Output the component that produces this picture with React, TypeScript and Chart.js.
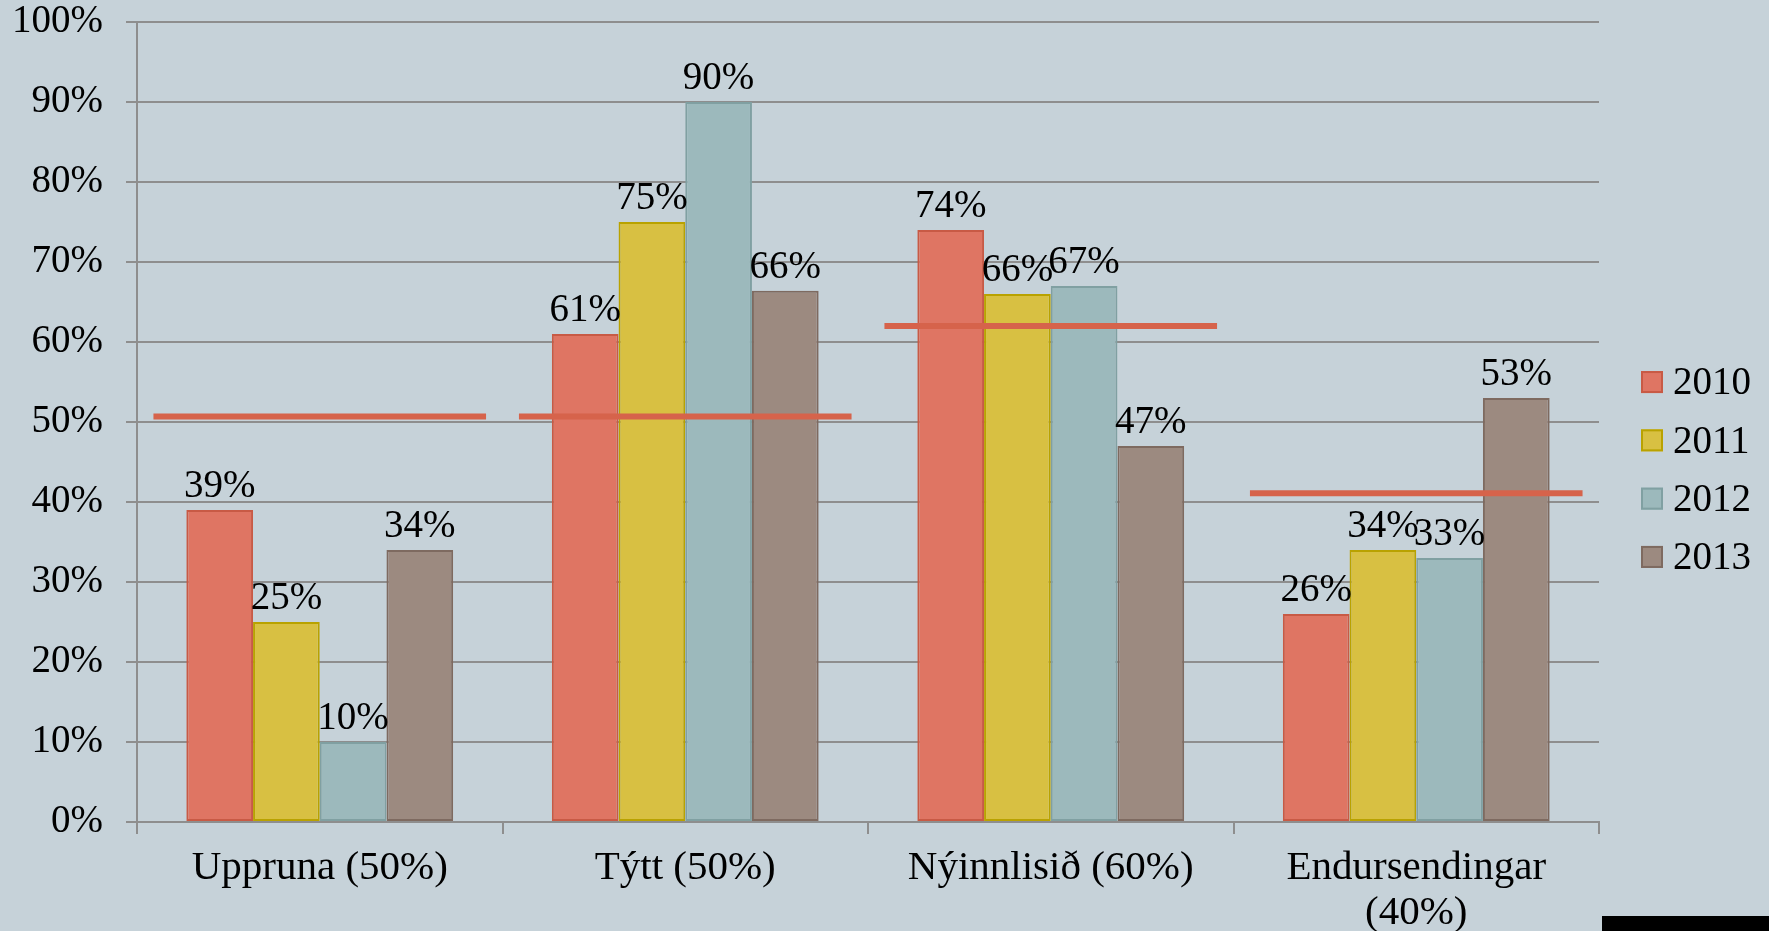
import React, { useEffect, useRef } from "react";
import { Chart, registerables } from "chart.js";

Chart.register(...registerables);

const categories: (string | string[])[] = [
  "Uppruna (50%)",
  "Týtt (50%)",
  "Nýinnlisið (60%)",
  ["Endursendingar", "(40%)"],
];
const seriesNames = ["2010", "2011", "2012", "2013"];
const values2010 = [39, 61, 74, 26];
const values2011 = [25, 75, 66, 34];
const values2012 = [10, 90, 67, 33];
const values2013 = [34, 66.4, 47, 53];
const targetValues = [50.7, 50.7, 62, 41.1];
const yTicks = [0, 10, 20, 30, 40, 50, 60, 70, 80, 90, 100];

const fills = ["#DF7563", "#D8C042", "#9CB9BC", "#9C8A80"];
const borders = ["#C85A45", "#B9A200", "#80A0A2", "#7E6A60"];
const FONT = "'Liberation Serif', 'DejaVu Serif', serif";
const FS = 39;
const FS_X = 41;
const GRID = "#8E8E8E";

const targetPlugin = {
  id: "targetLines",
  afterDatasetsDraw(chart: any) {
    const { ctx, scales } = chart;
    const x = scales.x;
    const y = scales.y;
    const catW = x.width / categories.length;
    ctx.save();
    ctx.strokeStyle = "#D6634B";
    ctx.lineWidth = 6;
    targetValues.forEach((v, i) => {
      const cx = x.getPixelForValue(i);
      const py = y.getPixelForValue(v);
      ctx.beginPath();
      ctx.moveTo(cx - catW * 0.455, py);
      ctx.lineTo(cx + catW * 0.455, py);
      ctx.stroke();
    });
    ctx.restore();
  },
};

const labelPlugin = {
  id: "barLabels",
  afterDatasetsDraw(chart: any) {
    const { ctx } = chart;
    ctx.save();
    ctx.font = `${FS}px ${FONT}`;
    ctx.fillStyle = "#000";
    ctx.textAlign = "center";
    ctx.textBaseline = "alphabetic";
    chart.data.datasets.forEach((ds: any, di: number) => {
      const meta = chart.getDatasetMeta(di);
      meta.data.forEach((bar: any, i: number) => {
        const v = ds.data[i];
        ctx.fillText(`${Math.round(v)}%`, bar.x, bar.y - 13);
      });
    });
    ctx.restore();
  },
};

const legendPlugin = {
  id: "sideLegend",
  afterDraw(chart: any) {
    const { ctx, chartArea, height } = chart;
    const x0 = chartArea.right + 42;
    const cy = height / 2 + 4;
    const step = 58.3;
    const n = chart.data.datasets.length;
    ctx.save();
    ctx.font = `${FS}px ${FONT}`;
    ctx.textAlign = "left";
    ctx.textBaseline = "middle";
    chart.data.datasets.forEach((ds: any, i: number) => {
      const yc = cy + (i - (n - 1) / 2) * step;
      ctx.fillStyle = ds.backgroundColor;
      ctx.fillRect(x0, yc - 11, 22, 22);
      ctx.strokeStyle = ds.borderColor;
      ctx.lineWidth = 2;
      ctx.strokeRect(x0 + 1, yc - 10, 20, 20);
      ctx.fillStyle = "#000";
      ctx.fillText(ds.label, x0 + 32, yc + 2);
    });
    ctx.restore();
  },
};

export default function App() {
  const canvasRef = useRef<HTMLCanvasElement | null>(null);

  useEffect(() => {
    document.body.style.margin = "0";
    document.body.style.overflow = "hidden";
    const canvas = canvasRef.current;
    if (!canvas) return;
    const seriesValues = [values2010, values2011, values2012, values2013];
    const chart = new Chart(canvas, {
      type: "bar",
      data: {
        labels: categories,
        datasets: seriesNames.map((name, i) => ({
          label: name,
          data: seriesValues[i],
          backgroundColor: fills[i],
          borderColor: borders[i],
          borderWidth: 2,
          borderSkipped: false,
          categoryPercentage: 0.73,
          barPercentage: 1.0,
        })),
      },
      options: {
        animation: false,
        responsive: true,
        maintainAspectRatio: false,
        layout: { padding: { top: 22, right: 170, bottom: 0, left: 0 } },
        plugins: {
          legend: { display: false },
          tooltip: { enabled: false },
        },
        scales: {
          x: {
            afterFit(scale: any) {
              scale.height = 109;
            },
            grid: {
              offset: true,
              drawOnChartArea: false,
              drawTicks: true,
              tickLength: 12,
              color: GRID,
              lineWidth: 2,
            },
            border: { display: true, color: GRID, width: 2 },
            ticks: {
              font: { family: FONT, size: FS_X, lineHeight: 1.1 },
              color: "#000",
              padding: 12,
              maxRotation: 0,
              autoSkip: false,
            },
          },
          y: {
            min: 0,
            max: 100,
            afterFit(scale: any) {
              scale.width = 137;
              scale.paddingTop = 0;
              scale.paddingBottom = 0;
            },
            afterBuildTicks(scale: any) {
              scale.ticks = yTicks.map((v) => ({ value: v }));
            },
            grid: {
              color: GRID,
              lineWidth: 2,
              tickLength: 11,
            },
            border: { display: true, color: GRID, width: 2 },
            ticks: {
              font: { family: FONT, size: FS, lineHeight: 1.15 },
              color: "#000",
              padding: 23,
              callback: (v: any) => `${v}%`,
            },
          },
        },
      },
      plugins: [targetPlugin, labelPlugin, legendPlugin],
    });
    return () => chart.destroy();
  }, []);

  return (
    <div
      style={{
        position: "relative",
        width: 1769,
        height: 931,
        background: "#C6D2D9",
        overflow: "hidden",
      }}
    >
      <canvas ref={canvasRef} />
      <div
        style={{
          position: "absolute",
          left: 1602,
          top: 916,
          width: 167,
          height: 15,
          background: "#000",
        }}
      />
    </div>
  );
}
